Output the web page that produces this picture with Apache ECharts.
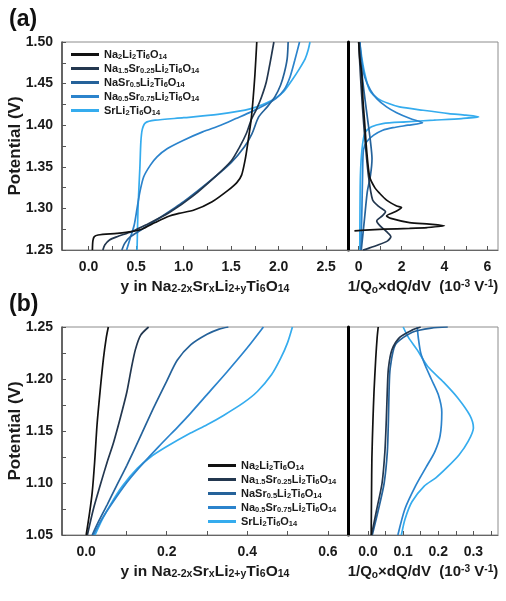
<!DOCTYPE html>
<html>
<head>
<meta charset="utf-8">
<script src="https://cdn.jsdelivr.net/npm/echarts@6/dist/echarts.min.js"></script>
<style>
  html, body { margin: 0; padding: 0; background: #fff; }
  #main { width: 506px; height: 601px; }
</style>
</head>
<body>
<div id="main"></div>
<script>
// legend names (subscripts written as _{..})
var seriesNames = [
    'Na_{2}Li_{2}Ti_{6}O_{14}',
    'Na_{1.5}Sr_{0.25}Li_{2}Ti_{6}O_{14}',
    'NaSr_{0.5}Li_{2}Ti_{6}O_{14}',
    'Na_{0.5}Sr_{0.75}Li_{2}Ti_{6}O_{14}',
    'SrLi_{2}Ti_{6}O_{14}'
];
var seriesColors = ['#111111', '#23374f', '#25629a', '#2b83cc', '#35acee'];

// (a) potential vs y, [y, V]
var aNa2 = [[0.04,1.25],[0.045,1.261],[0.06,1.266],[0.1,1.268],[0.3,1.27],[0.45,1.272],[0.56,1.275],[0.7,1.283],[0.83,1.29],[0.95,1.294],[1.11,1.298],[1.3,1.308],[1.47,1.322],[1.56,1.331],[1.61,1.34],[1.65,1.36],[1.68,1.382],[1.71,1.406],[1.73,1.43],[1.75,1.46],[1.77,1.50]];
var aNa15 = [[0.15,1.25],[0.17,1.256],[0.22,1.262],[0.3,1.266],[0.45,1.272],[0.6,1.28],[0.85,1.295],[1.1,1.315],[1.35,1.34],[1.5,1.357],[1.59,1.374],[1.66,1.39],[1.71,1.406],[1.77,1.42],[1.82,1.434],[1.87,1.452],[1.91,1.475],[1.95,1.50]];
var aNa1 = [[0.35,1.25],[0.38,1.258],[0.44,1.266],[0.55,1.274],[0.7,1.285],[1.0,1.308],[1.3,1.335],[1.5,1.355],[1.64,1.374],[1.72,1.39],[1.79,1.41],[1.88,1.422],[1.96,1.434],[2.02,1.448],[2.06,1.463],[2.09,1.48],[2.10,1.50]];
var aNa05 = [[0.40,1.25],[0.44,1.265],[0.48,1.28],[0.51,1.30],[0.54,1.32],[0.58,1.338],[0.65,1.352],[0.72,1.362],[0.83,1.372],[1.0,1.382],[1.2,1.392],[1.39,1.40],[1.55,1.408],[1.71,1.416],[1.85,1.424],[1.97,1.432],[2.06,1.443],[2.12,1.458],[2.17,1.478],[2.22,1.50]];
var aSr = [[0.51,1.25],[0.52,1.30],[0.54,1.35],[0.55,1.38],[0.565,1.395],[0.6,1.403],[0.7,1.406],[1.0,1.409],[1.36,1.413],[1.71,1.42],[1.93,1.43],[2.05,1.44],[2.14,1.454],[2.22,1.468],[2.28,1.48],[2.31,1.49],[2.33,1.50]];

// (a) dQ/dV, [dQ/dV, V]
var bNa2 = [[0.0,1.50],[0.05,1.48],[0.14,1.463],[0.2,1.43],[0.28,1.402],[0.37,1.37],[0.51,1.338],[0.75,1.325],[0.98,1.318],[1.3,1.31],[1.77,1.303],[2.0,1.301],[1.7,1.296],[1.3,1.291],[1.5,1.288],[2.37,1.283],[3.3,1.281],[4.0,1.279],[3.2,1.277],[2.37,1.276],[1.2,1.275],[0.3,1.274],[-0.2,1.273]];
var bNa15 = [[0.0,1.50],[0.08,1.46],[0.18,1.42],[0.3,1.38],[0.45,1.34],[0.65,1.31],[0.95,1.302],[1.25,1.296],[1.1,1.291],[0.84,1.285],[1.0,1.279],[1.3,1.272],[1.5,1.266],[1.35,1.261],[0.9,1.256],[0.45,1.252],[0.2,1.25]];
var bNa1 = [[0.05,1.50],[0.12,1.47],[0.25,1.44],[0.4,1.41],[0.55,1.38],[0.62,1.36],[0.55,1.34],[0.4,1.32],[0.28,1.29],[0.2,1.27],[0.12,1.25]];
var bNa05 = [[0.05,1.50],[0.15,1.475],[0.28,1.458],[0.55,1.442],[0.84,1.432],[1.3,1.422],[1.77,1.415],[2.4,1.408],[2.98,1.403],[2.3,1.400],[1.6,1.397],[1.12,1.394],[0.7,1.388],[0.37,1.38],[0.22,1.37],[0.18,1.34],[0.15,1.3],[0.12,1.27],[0.1,1.25]];
var bSr = [[0.05,1.50],[0.15,1.48],[0.3,1.46],[0.51,1.442],[0.9,1.432],[1.4,1.426],[1.9,1.422],[3.0,1.418],[4.2,1.414],[5.0,1.412],[5.6,1.410],[4.8,1.408],[3.5,1.406],[2.2,1.404],[1.12,1.402],[0.6,1.398],[0.28,1.39],[0.15,1.37],[0.08,1.34],[0.06,1.3],[0.05,1.25]];

// (b) potential vs y
var cNa2 = [[0.0,1.05],[0.008,1.07],[0.015,1.091],[0.021,1.12],[0.027,1.156],[0.035,1.19],[0.043,1.22],[0.05,1.24],[0.055,1.25]];
var cNa15 = [[0.003,1.05],[0.018,1.075],[0.035,1.098],[0.052,1.12],[0.068,1.139],[0.085,1.163],[0.101,1.1875],[0.112,1.21],[0.122,1.228],[0.135,1.242],[0.155,1.25]];
var cNa1 = [[0.015,1.05],[0.032,1.064],[0.052,1.079],[0.075,1.097],[0.101,1.117],[0.135,1.145],[0.167,1.172],[0.2,1.198],[0.226,1.218],[0.26,1.233],[0.3,1.243],[0.33,1.248],[0.353,1.25]];
var cNa05 = [[0.018,1.05],[0.04,1.066],[0.067,1.082],[0.1,1.1],[0.13,1.114],[0.18,1.135],[0.23,1.155],[0.259,1.167],[0.3,1.185],[0.35,1.207],[0.4,1.23],[0.44,1.25]];
var cSr = [[0.022,1.05],[0.04,1.065],[0.06,1.079],[0.09,1.097],[0.127,1.114],[0.16,1.125],[0.2,1.135],[0.259,1.148],[0.3,1.156],[0.341,1.165],[0.39,1.177],[0.425,1.188],[0.46,1.204],[0.483,1.22],[0.5,1.235],[0.512,1.25]];

// (b) dQ/dV
var dNa2 = [[0.009,1.05],[0.010,1.09],[0.011,1.124],[0.014,1.16],[0.017,1.1875],[0.022,1.22],[0.026,1.24],[0.029,1.25]];
var dNa15 = [[0.01,1.05],[0.025,1.075],[0.04,1.1],[0.048,1.13],[0.052,1.16],[0.055,1.19],[0.058,1.21],[0.068,1.228],[0.09,1.24],[0.125,1.247],[0.15,1.25]];
var dNa1 = [[0.012,1.05],[0.03,1.075],[0.046,1.1],[0.055,1.13],[0.058,1.16],[0.06,1.19],[0.063,1.21],[0.078,1.233],[0.126,1.245],[0.18,1.249],[0.227,1.25]];
var dNa05 = [[0.085,1.05],[0.105,1.075],[0.135,1.097],[0.165,1.115],[0.19,1.13],[0.205,1.145],[0.21,1.168],[0.2,1.185],[0.18,1.2],[0.163,1.213],[0.15,1.225],[0.143,1.24],[0.14,1.25]];
var dSr = [[0.095,1.05],[0.105,1.065],[0.125,1.082],[0.16,1.097],[0.193,1.105],[0.225,1.115],[0.259,1.127],[0.285,1.14],[0.3,1.153],[0.29,1.165],[0.255,1.182],[0.215,1.197],[0.17,1.212],[0.14,1.228],[0.115,1.24],[0.1,1.25]];

// tick labels / ticks
var aYLabels = [1.25, 1.30, 1.35, 1.40, 1.45, 1.50];
var aYTicks = [1.25, 1.275, 1.30, 1.325, 1.35, 1.375, 1.40, 1.425, 1.45, 1.475, 1.50];
var aXLabels = [0, 0.5, 1.0, 1.5, 2.0, 2.5];
var aXTicks = [0, 0.25, 0.5, 0.75, 1.0, 1.25, 1.5, 1.75, 2.0, 2.25, 2.5];
var bXLabels = [0, 2, 4, 6];
var bXTicks = [0, 1, 2, 3, 4, 5, 6];
var cYLabels = [1.05, 1.10, 1.15, 1.20, 1.25];
var cYTicks = [1.05, 1.075, 1.10, 1.125, 1.15, 1.175, 1.20, 1.225, 1.25];
var cXLabels = [0, 0.2, 0.4, 0.6];
var cXTicks = [0, 0.1, 0.2, 0.3, 0.4, 0.5, 0.6];
var dXLabels = [0, 0.1, 0.2, 0.3];
var dXTicks = [0, 0.05, 0.1, 0.15, 0.2, 0.25, 0.3, 0.35];

var font = '"Liberation Sans", Arial, sans-serif';

function toRich(text) {
    return ('{b|' + text
        .replace(/_\{([^}]*)\}/g, '}{s|$1}{b|')
        .replace(/\^\{([^}]*)\}/g, '}{p|$1}{b|') + '}')
        .replace(/\{b\|\}/g, '');
}

function richStyles(size, subSize, lh) {
    return {
        b: { fontFamily: font, fontWeight: 'bold', fontSize: size, color: '#1a1a1a', lineHeight: lh },
        s: { fontFamily: font, fontWeight: 'bold', fontSize: subSize, color: '#1a1a1a', lineHeight: subSize, verticalAlign: 'bottom' },
        p: { fontFamily: font, fontWeight: 'bold', fontSize: subSize, color: '#1a1a1a', lineHeight: subSize, verticalAlign: 'top' }
    };
}

var tickLabelStyle = { fontFamily: font, fontWeight: 'bold', fontSize: 14, color: '#1a1a1a' };

function makeXAxis(grid, min, max, labels, ticks, digits, name, nameSize) {
    return {
        type: 'value', gridIndex: grid, min: min, max: max,
        name: toRich(name), nameLocation: 'middle', nameGap: 29, nameMoveOverlap: false,
        nameTextStyle: { rich: richStyles(nameSize, nameSize * 0.68, 16) },
        axisLine: { show: true, onZero: false, lineStyle: { color: '#666', width: 1.2 } },
        axisTick: { show: true, inside: true, length: 4, customValues: ticks, lineStyle: { color: '#555' } },
        axisLabel: Object.assign({ margin: 10, customValues: labels, formatter: function (v) { return v.toFixed(digits); } }, tickLabelStyle),
        splitLine: { show: false }
    };
}

function makeYAxis(grid, min, max, labels, ticks, left) {
    var axis = {
        type: 'value', gridIndex: grid, min: min, max: max,
        axisTick: { show: left, inside: true, length: 4, customValues: ticks, lineStyle: { color: '#555' } },
        axisLabel: Object.assign({ show: left, margin: 9, customValues: labels, formatter: function (v) { return v.toFixed(2); } }, tickLabelStyle),
        splitLine: { show: false }
    };
    if (left) {
        axis.axisLine = { show: true, onZero: false, lineStyle: { color: '#444', width: 1.5 } };
        axis.name = 'Potential (V)';
        axis.nameLocation = 'middle';
        axis.nameGap = 38;
        axis.nameMoveOverlap = false;
        axis.nameTextStyle = { fontFamily: font, fontWeight: 'bold', fontSize: 17, color: '#1a1a1a' };
    } else {
        axis.axisLine = { show: true, onZero: false, lineStyle: { color: '#000', width: 3 } };
    }
    return axis;
}

var xName = 'y in Na_{2-2x}Sr_{x}Li_{2+y}Ti_{6}O_{14}';
var dqName = '1/Q_{o}×dQ/dV  (10^{-3} V^{-1})';

var grids = [
    { left: 62, top: 42, width: 286, height: 208 },
    { left: 348, top: 42, width: 150, height: 208 },
    { left: 62, top: 327, width: 286, height: 208 },
    { left: 348, top: 327, width: 150, height: 208 }
].map(function (g) {
    g.show = true;
    g.containLabel = false;
    g.outerBoundsMode = 'none';
    g.borderColor = '#8c8c8c';
    g.borderWidth = 1;
    return g;
});

var dataSets = [
    [aNa2, aNa15, aNa1, aNa05, aSr],
    [bNa2, bNa15, bNa1, bNa05, bSr],
    [cNa2, cNa15, cNa1, cNa05, cSr],
    [dNa2, dNa15, dNa1, dNa05, dSr]
];

var series = [];
dataSets.forEach(function (set, gridIndex) {
    set.forEach(function (data, i) {
        series.push({
            type: 'line',
            name: toRich(seriesNames[i]),
            xAxisIndex: gridIndex,
            yAxisIndex: gridIndex,
            data: data,
            showSymbol: false,
            smooth: 0.25,
            lineStyle: { color: seriesColors[i], width: 1.7 },
            itemStyle: { color: seriesColors[i] },
            z: 10 - i
        });
    });
});

function makeLegend(left, top) {
    return {
        left: left, top: top, orient: 'vertical',
        icon: 'rect', itemWidth: 28, itemHeight: 3, itemGap: 2,
        selectedMode: false,
        data: seriesNames.map(toRich),
        textStyle: { rich: richStyles(11, 7.5, 13) }
    };
}

var chart = echarts.init(document.getElementById('main'), null, { renderer: 'canvas' });
chart.setOption({
    animation: false,
    backgroundColor: '#fff',
    title: [
        { text: '(a)', left: 4, top: 3, textStyle: { fontFamily: font, fontWeight: 'bold', fontSize: 23, color: '#111' } },
        { text: '(b)', left: 4, top: 288, textStyle: { fontFamily: font, fontWeight: 'bold', fontSize: 23, color: '#111' } }
    ],
    legend: [makeLegend(66, 44), makeLegend(203, 455)],
    grid: grids,
    xAxis: [
        makeXAxis(0, -0.28, 2.73, aXLabels, aXTicks, 1, xName, 15.5),
        makeXAxis(1, -0.5, 6.5, bXLabels, bXTicks, 0, dqName, 15),
        makeXAxis(2, -0.06, 0.65, cXLabels, cXTicks, 1, xName, 15.5),
        makeXAxis(3, -0.057, 0.37, dXLabels, dXTicks, 1, dqName, 15)
    ],
    yAxis: [
        makeYAxis(0, 1.25, 1.50, aYLabels, aYTicks, true),
        makeYAxis(1, 1.25, 1.50, aYLabels, aYTicks, false),
        makeYAxis(2, 1.05, 1.25, cYLabels, cYTicks, true),
        makeYAxis(3, 1.05, 1.25, cYLabels, cYTicks, false)
    ],
    series: series
});
</script>
</body>
</html>
